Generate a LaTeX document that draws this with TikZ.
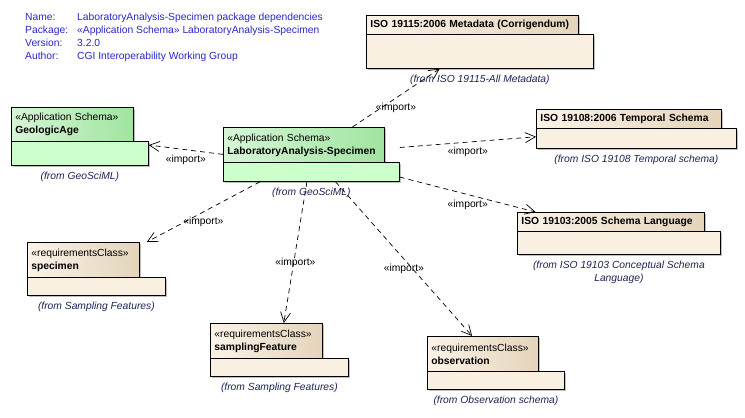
\documentclass[tikz,border=0pt]{standalone}
\usepackage{fontspec}
\setmainfont{Liberation Sans}
\usetikzlibrary{arrows.meta, positioning, fit, shadows}

\definecolor{appleft}{RGB}{214,246,214}
\definecolor{appright}{RGB}{160,228,160}
\definecolor{appbody}{RGB}{204,255,204}
\definecolor{reqleft}{RGB}{251,243,232}
\definecolor{reqright}{RGB}{228,212,186}
\definecolor{reqbody}{RGB}{250,240,226}
\definecolor{infoblue}{RGB}{40,40,200}
\definecolor{fromnavy}{RGB}{30,35,80}

\begin{document}
\begin{tikzpicture}[
    x=1pt, y=-1pt, >={Straight Barb[length=10pt, width=10pt]},
    font=\fontsize{10.3}{13}\selectfont,
    tab/.style={draw, line width=0.8pt, anchor=north west, inner sep=4pt,
                align=left, drop shadow={shadow xshift=2pt, shadow yshift=-2pt}},
    box/.style={draw, line width=0.8pt, anchor=north west, inner sep=0pt,
                drop shadow={shadow xshift=2pt, shadow yshift=-2pt}},
    apptab/.style={tab, left color=appleft, right color=appright},
    appbox/.style={box, fill=appbody},
    reqtab/.style={tab, left color=reqleft, right color=reqright},
    reqbox/.style={box, fill=reqbody},
    pkg/.style={inner sep=0pt, outer sep=0pt},
    fromlbl/.style={font=\fontsize{10.3}{13}\selectfont\itshape, text=fromnavy,
                    inner sep=1pt, align=center},
    imp/.style={->, line width=0.7pt, dash pattern=on 5pt off 4pt},
    implbl/.style={midway, yshift=-10pt, inner sep=1pt}
  ]
  \useasboundingbox (0,0) rectangle (745,418);

  % diagram info
  \node[anchor=north west, inner sep=0pt, text=infoblue] (info) at (25,11.5)
    {\begin{tabular}{@{}p{52pt}@{}l@{}}
       Name: & LaboratoryAnalysis-Specimen package dependencies\\
       Package: & «Application Schema» LaboratoryAnalysis-Specimen\\
       Version: & 3.2.0\\
       Author: & CGI Interoperability Working Group
     \end{tabular}};

  % application schemas
  \node[apptab, text width=114pt, minimum height=34pt] (geoTab) at (11,107)
    {«Application Schema»\\\textbf{GeologicAge}};
  \node[appbox, minimum width=137pt, minimum height=24pt] (geoBody) at (11,141) {};
  \node[pkg, fit=(geoTab)(geoBody)] (geoPkg) {};
  \node[fromlbl, below=5pt of geoBody] (geoFrom) {(from GeoSciML)};

  \node[apptab, text width=153pt, minimum height=35pt] (labTab) at (223,127)
    {«Application Schema»\\\textbf{LaboratoryAnalysis-Specimen}};
  \node[appbox, minimum width=176pt, minimum height=19pt] (labBody) at (223,162) {};
  \node[pkg, fit=(labTab)(labBody)] (labPkg) {};
  \node[fromlbl, below=5pt of labBody] (labFrom) {(from GeoSciML)};

  % ISO packages
  \node[reqtab, text width=204pt, minimum height=19pt] (metaTab) at (366,15)
    {\textbf{ISO 19115:2006 Metadata (Corrigendum)}};
  \node[reqbox, minimum width=227pt, minimum height=34pt] (metaBody) at (366,34) {};
  \node[pkg, fit=(metaTab)(metaBody)] (metaPkg) {};
  \node[fromlbl, below=5pt of metaBody] (metaFrom) {(from ISO 19115-All Metadata)};

  \node[reqtab, text width=177pt, minimum height=19pt] (tempTab) at (536,109)
    {\textbf{ISO 19108:2006 Temporal Schema}};
  \node[reqbox, minimum width=200pt, minimum height=20pt] (tempBody) at (536,128) {};
  \node[pkg, fit=(tempTab)(tempBody)] (tempPkg) {};
  \node[fromlbl, below=5pt of tempBody] (tempFrom) {(from ISO 19108 Temporal schema)};

  \node[reqtab, text width=179pt, minimum height=19pt] (langTab) at (517,212)
    {\textbf{ISO 19103:2005 Schema Language}};
  \node[reqbox, minimum width=203pt, minimum height=23pt] (langBody) at (517,231) {};
  \node[pkg, fit=(langTab)(langBody)] (langPkg) {};
  \node[fromlbl, below=5pt of langBody] (langFrom)
    {(from ISO 19103 Conceptual Schema\\Language)};

  % requirements classes
  \node[reqtab, text width=104pt, minimum height=35pt] (specTab) at (27,242)
    {«requirementsClass»\\\textbf{specimen}};
  \node[reqbox, minimum width=138pt, minimum height=18pt] (specBody) at (27,277) {};
  \node[pkg, fit=(specTab)(specBody)] (specPkg) {};
  \node[fromlbl, below=5pt of specBody] (specFrom) {(from Sampling Features)};

  \node[reqtab, text width=104pt, minimum height=35pt] (sampTab) at (210,323)
    {«requirementsClass»\\\textbf{samplingFeature}};
  \node[reqbox, minimum width=138pt, minimum height=18pt] (sampBody) at (210,358) {};
  \node[pkg, fit=(sampTab)(sampBody)] (sampPkg) {};
  \node[fromlbl, below=5pt of sampBody] (sampFrom) {(from Sampling Features)};

  \node[reqtab, text width=103pt, minimum height=35pt] (obsTab) at (427,336)
    {«requirementsClass»\\\textbf{observation}};
  \node[reqbox, minimum width=137pt, minimum height=18pt] (obsBody) at (427,371) {};
  \node[pkg, fit=(obsTab)(obsBody)] (obsPkg) {};
  \node[fromlbl, below=5pt of obsBody] (obsFrom) {(from Observation schema)};

  % imports
  \draw[imp] (labPkg.west) -- node[implbl] {«import»} (geoPkg);
  \draw[imp] (labPkg) -- node[implbl] {«import»} (metaPkg);
  \draw[imp] (labPkg) -- node[implbl] {«import»} (tempPkg);
  \draw[imp] (labPkg) -- node[implbl] {«import»} (langPkg);
  \draw[imp] (labPkg) -- node[implbl] {«import»} (specPkg);
  \draw[imp] (labPkg) -- node[implbl] {«import»} (sampPkg);
  \draw[imp] (labPkg) -- node[implbl] {«import»} (obsPkg);
\end{tikzpicture}
\end{document}
